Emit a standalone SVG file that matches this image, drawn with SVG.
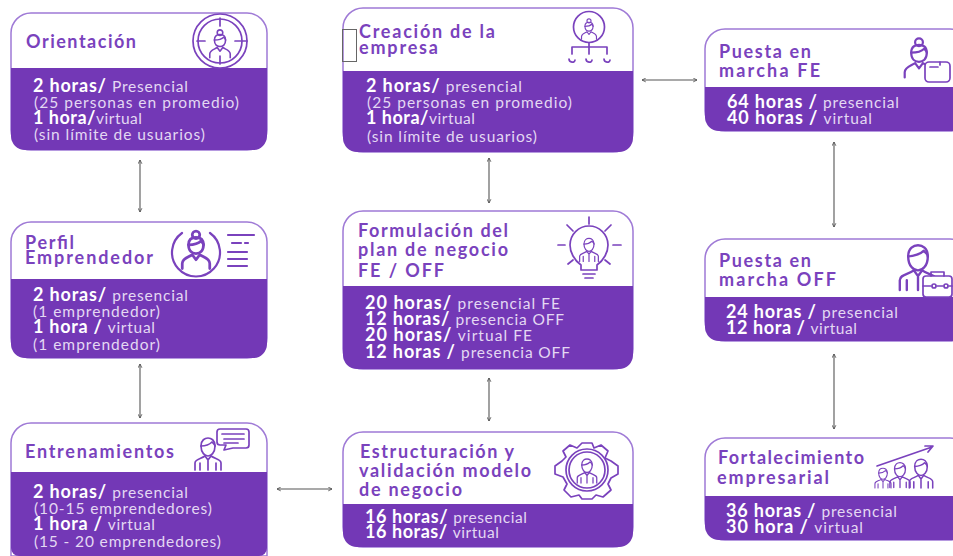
<svg xmlns="http://www.w3.org/2000/svg" xmlns:xlink="http://www.w3.org/1999/xlink" width="953" height="556" viewBox="0 0 953 556">
<style>
text{font-family:"Lato","Open Sans",sans-serif;transform:translateY(1px)}
.t{font-size:18px;font-weight:700;fill:#7a42bd}
.b{font-size:15.500px;font-weight:400;fill:#e4d8f3}
.b tspan{font-weight:700;fill:#fff;font-size:18px}
.card{fill:#fff;stroke:#9f7ad6;stroke-width:1.5}
.band{fill:#7338b6}
.i{fill:none;stroke:#7a42bd;stroke-width:1.7;stroke-linecap:round;stroke-linejoin:round}
.c{fill:none;stroke:#555;stroke-width:1.1;marker-start:url(#a);marker-end:url(#a)}
</style>
<defs>
<marker id="a" viewBox="0 0 8 8" refX="7" refY="4" markerWidth="5" markerHeight="5" orient="auto-start-reverse" markerUnits="userSpaceOnUse"><path d="M1 1L7 4L1 7" fill="none" stroke="#555" stroke-width="1.4"/></marker>
<g id="woman"><circle cx="0" cy="-9" r="3"/><path d="M-6 -1C-6 -6 -3 -7 0 -7S6 -6 6 -1C6 4 3 6 0 6S-6 4 -6 -1Z"/><path d="M-6 -1C-2 -1 2 -2 4 -4C5 -3 6 -2 6 -1"/><path d="M-11 18V14C-11 10 -6 9 -3 7M11 18V14C11 10 6 9 3 7M-3 7L0 11L3 7"/></g>
<g id="man"><path d="M-7 -4C-7 -10 -3 -12 0 -12S7 -10 7 -4C7 3 3 6 0 6S-7 3 -7 -4Z"/><path d="M-7 -4C-3 -4 2 -6 4 -8C5 -7 7 -6 7 -4"/><path d="M-13 20V13C-13 9 -7 9 -3 6M13 20V13C13 9 7 9 3 6M-3 6L0 10L3 6M-8 20V13M8 20V13M0 10V20"/></g>
</defs>

<g id="connectors">
<path class="c" d="M140 160V212"/>
<path class="c" d="M140 364V418"/>
<path class="c" d="M277 489H332"/>
<path class="c" d="M642 80H697"/>
<path class="c" d="M489 158V203"/>
<path class="c" d="M489 378V421"/>
<path class="c" d="M834 142V227"/>
<path class="c" d="M834 354V429"/>
</g>

<g id="orientacion">
<rect class="card" x="11" y="13" width="256" height="137" rx="20"/>
<path class="band" d="M11 68H267V136A14 14 0 0 1 253 150H25A14 14 0 0 1 11 136Z"/>
<text class="t" x="26" y="47" textLength="110">Orientación</text>
<g class="i"><circle cx="220" cy="41" r="27"/><circle cx="220" cy="41" r="22"/><path d="M220 18V26M220 56V64M197 41H205M235 41H247"/><use xlink:href="#woman" transform="translate(220 41) scale(.93)"/></g>
<text class="b" x="33" y="91" textLength="155"><tspan>2 horas/ </tspan>Presencial</text>
<text class="b" x="34" y="107" textLength="205">(25 personas en promedio)</text>
<text class="b" x="33" y="123" textLength="109"><tspan>1 hora/</tspan>virtual</text>
<text class="b" x="34" y="139" textLength="171">(sin límite de usuarios)</text>
</g>

<g id="perfil">
<rect class="card" x="11" y="222" width="256" height="136" rx="20"/>
<path class="band" d="M11 279H267V344A14 14 0 0 1 253 358H25A14 14 0 0 1 11 344Z"/>
<text class="t" x="25" y="248" textLength="49">Perfil</text>
<text class="t" x="25" y="263" textLength="128">Emprendedor</text>
<g class="i" style="stroke-width:2.200"><path d="M182 233A24 24 0 1 0 210 233"/><use xlink:href="#woman" transform="translate(196 246) scale(1.250)"/><path d="M228 235H254M232 243H241M245 243H248M228 252H247M228 259H247M228 266H247"/></g>
<text class="b" x="33" y="300" textLength="155"><tspan>2 horas/ </tspan>presencial</text>
<text class="b" x="33" y="316" textLength="127">(1 emprendedor)</text>
<text class="b" x="33" y="332" textLength="122"><tspan>1 hora / </tspan>virtual</text>
<text class="b" x="33" y="349" textLength="127">(1 emprendedor)</text>
</g>

<g id="entrenamientos">
<path class="card" d="M11 556V443A20 20 0 0 1 31 423H247A20 20 0 0 1 267 443V556Z"/>
<path class="band" d="M11 472H267V548A8 8 0 0 1 259 556H19A8 8 0 0 1 11 548Z"/>
<text class="t" x="25" y="457" textLength="149">Entrenamientos</text>
<g class="i"><use xlink:href="#man" transform="translate(208 450)"/><path d="M220 429H246A3 3 0 0 1 249 432V445A3 3 0 0 1 246 448H233L224 450L226 445H220A3 3 0 0 1 217 442V432A3 3 0 0 1 220 429ZM222 434H244M224 439H244M224 443H238"/></g>
<text class="b" x="33" y="497" textLength="155"><tspan>2 horas/ </tspan>presencial</text>
<text class="b" x="34" y="513" textLength="178">(10-15  emprendedores)</text>
<text class="b" x="33" y="529" textLength="122"><tspan>1 hora / </tspan>virtual</text>
<text class="b" x="34" y="546" textLength="187">(15 - 20 emprendedores)</text>
</g>

<g id="creacion">
<rect class="card" x="343" y="8" width="290" height="144" rx="20"/>
<path class="band" d="M343 71H633V138A14 14 0 0 1 619 152H357A14 14 0 0 1 343 138Z"/>
<rect x="342.500" y="29.500" width="14" height="32" fill="none" stroke="#666" stroke-width="1"/>
<text class="t" x="359" y="37" textLength="136">Creación de la</text>
<text class="t" x="359" y="53" textLength="79">empresa</text>
<g class="i"><circle cx="589" cy="27" r="15.500"/><use xlink:href="#woman" transform="translate(589 27) scale(.68)"/><path d="M589 43V54M572 54V47H607V54M569 59C569 63 575 63 575 60M586 59C586 63 592 63 592 60M604 59C604 63 610 63 610 60"/></g>
<text class="b" x="366" y="91" textLength="156"><tspan>2 horas/ </tspan>presencial</text>
<text class="b" x="367" y="107" textLength="205">(25 personas en promedio)</text>
<text class="b" x="366" y="123" textLength="109"><tspan>1 hora/</tspan>virtual</text>
<text class="b" x="367" y="141" textLength="170">(sin límite de usuarios)</text>
</g>

<g id="formulacion">
<rect class="card" x="343" y="211" width="290" height="158" rx="20"/>
<path class="band" d="M343 286H633V355A14 14 0 0 1 619 369H357A14 14 0 0 1 343 355Z"/>
<text class="t" x="358" y="236" textLength="150">Formulación del</text>
<text class="t" x="358" y="255" textLength="150">plan de negocio</text>
<text class="t" x="358" y="276" textLength="86">FE / OFF</text>
<g class="i"><path d="M581 265C574 260 570 252 570 245A19 19 0 0 1 608 245C608 252 604 260 597 265V270H581ZM583 274H595M585 278H593"/><use xlink:href="#man" transform="translate(589 247) scale(.72)"/><path d="M589 217V224M567 225L573 231M611 225L605 231M558 245H565M613 245H621M568 264L573 260M610 264L605 260"/></g>
<text class="b" x="365" y="308" textLength="195"><tspan>20 horas/ </tspan>presencial FE</text>
<text class="b" x="365" y="324" textLength="199"><tspan>12 horas/ </tspan>presencia OFF</text>
<text class="b" x="365" y="340" textLength="167"><tspan>20 horas/ </tspan>virtual FE</text>
<text class="b" x="365" y="357" textLength="205"><tspan>12 horas / </tspan>presencia OFF</text>
</g>

<g id="estructuracion">
<rect class="card" x="343" y="432" width="290" height="115" rx="20"/>
<path class="band" d="M343 504H633V533A14 14 0 0 1 619 547H357A14 14 0 0 1 343 533Z"/>
<text class="t" x="360" y="457" textLength="154">Estructuración y</text>
<text class="t" x="359" y="476" textLength="172">validación modelo</text>
<text class="t" x="359" y="495" textLength="103">de negocio</text>
<g class="i"><path d="M582 443L592 443L594 448L601 445L608 451L605 458L611 461L618 466V474L611 478L608 484L611 490L603 497L596 495L592 499H582L579 495L571 497L564 490L567 484L563 477L555 474V466L562 461L566 457L563 451L570 445L577 448Z"/><circle cx="587" cy="470" r="21"/><circle cx="587" cy="470" r="18"/><use xlink:href="#man" transform="translate(587 468) scale(.75)"/></g>
<text class="b" x="365" y="522" textLength="162"><tspan>16 horas/ </tspan>presencial</text>
<text class="b" x="365" y="537" textLength="134"><tspan>16 horas/ </tspan>virtual</text>
</g>

<g id="puesta-fe">
<rect class="card" x="705" y="29" width="265" height="102" rx="20"/>
<path class="band" d="M705 87H953V131H719A14 14 0 0 1 705 117Z"/>
<text class="t" x="719" y="57" textLength="92">Puesta en</text>
<text class="t" x="719" y="76" textLength="101">marcha FE</text>
<g class="i"><use xlink:href="#woman" transform="translate(919 54) scale(1.300)"/><rect x="925" y="62" width="25" height="20" rx="4" fill="#fff"/><path d="M930 67H938M940 62V65"/></g>
<text class="b" x="727" y="107" textLength="172"><tspan>64 horas / </tspan>presencial</text>
<text class="b" x="727" y="123" textLength="145"><tspan>40 horas / </tspan>virtual</text>
</g>

<g id="puesta-off">
<rect class="card" x="705" y="239" width="265" height="102" rx="20"/>
<path class="band" d="M705 297H953V341H719A14 14 0 0 1 705 327Z"/>
<text class="t" x="719" y="266" textLength="92">Puesta en</text>
<text class="t" x="719" y="285" textLength="117">marcha OFF</text>
<g class="i"><use xlink:href="#man" transform="translate(918 262) scale(1.400)"/><rect x="923" y="276" width="29" height="21" rx="3" fill="#fff"/><path d="M931 276V272H944V276M923 286H931M937 286H943M949 286H952"/><circle cx="934" cy="286" r="2"/><circle cx="946" cy="286" r="2"/></g>
<text class="b" x="726" y="317" textLength="172"><tspan>24 horas / </tspan>presencial</text>
<text class="b" x="726" y="333" textLength="131"><tspan>12 hora / </tspan>virtual</text>
</g>

<g id="fortalecimiento">
<rect class="card" x="705" y="438" width="265" height="102" rx="20"/>
<path class="band" d="M705 496H953V540H719A14 14 0 0 1 705 526Z"/>
<text class="t" x="718" y="463" textLength="146">Fortalecimiento</text>
<text class="t" x="717" y="483" textLength="112">empresarial</text>
<g class="i"><path d="M877 466L932 447M925 446L933 446L928 452"/><use xlink:href="#man" transform="translate(883 475.600) scale(.62)"/><use xlink:href="#man" transform="translate(900 472) scale(.78)"/><use xlink:href="#man" transform="translate(921 470) scale(.9)"/></g>
<text class="b" x="726" y="516" textLength="171"><tspan>36 horas / </tspan>presencial</text>
<text class="b" x="726" y="532" textLength="137"><tspan>30 hora / </tspan>virtual</text>
</g>
</svg>
